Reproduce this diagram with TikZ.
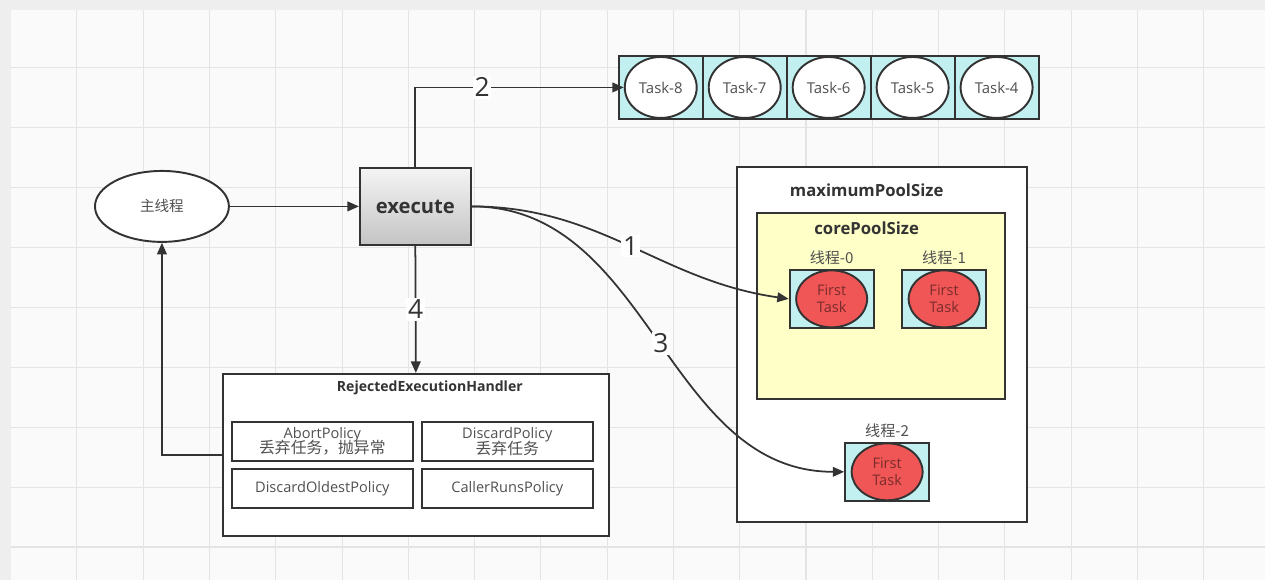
\documentclass[tikz,border=0pt]{standalone}
\usepackage{fontspec}
\setmainfont{Open Sans}
\newfontfamily\cjk{Noto Sans CJK SC}
\usetikzlibrary{arrows.meta,positioning,calc,shapes.geometric}

\definecolor{bgwhite}{HTML}{FAFAFA}
\definecolor{bandgray}{HTML}{EEEEEE}
\definecolor{gridgray}{HTML}{E4E4E4}
\definecolor{linegray}{HTML}{333333}
\definecolor{textgray}{HTML}{505050}
\definecolor{cellcyan}{HTML}{C2F0F0}
\definecolor{coreyellow}{HTML}{FFFFC8}
\definecolor{taskred}{HTML}{F05656}
\definecolor{taskredtext}{HTML}{7A2B2B}
\definecolor{exectop}{HTML}{F4F4F4}
\definecolor{execbottom}{HTML}{C4C4C4}

\begin{document}
\begin{tikzpicture}[x=0.02cm,y=-0.02cm]
    % Define styles
    \tikzstyle{conn}=[draw=linegray,line width=1pt]
    \tikzstyle{arrow}=[conn,-{Triangle[length=6.5pt,width=5.5pt]}]
    \tikzstyle{box}=[rectangle,draw=linegray,line width=1.1pt,inner sep=0pt]
    \tikzstyle{cell}=[box,fill=cellcyan,minimum width=1.68cm,minimum height=1.16cm]
    \tikzstyle{task}=[ellipse,draw=linegray,line width=1.1pt,fill=white,minimum width=1.44cm,minimum height=1.22cm,inner sep=0pt,text=textgray,font=\fontsize{8.5}{10}\selectfont]
    \tikzstyle{first}=[ellipse,draw=linegray,line width=1.1pt,fill=taskred,minimum width=1.42cm,minimum height=1.14cm,inner sep=0pt,align=center,text=taskredtext,font=\fontsize{8.3}{9.5}\selectfont]
    \tikzstyle{policy}=[box,line width=0.9pt,fill=white,align=center,text=textgray,font=\fontsize{8.3}{10}\selectfont]
    \tikzstyle{heading}=[text=linegray,font=\bfseries\fontsize{9.5}{11}\selectfont]
    \tikzstyle{thread}=[text=textgray,font=\cjk\fontsize{8.6}{10}\selectfont]
    \tikzstyle{numlabel}=[fill=white,inner sep=1pt,text=linegray,font=\fontsize{15}{15}\selectfont]

    % Background grid
    \fill[bgwhite] (0,0) rectangle (1266,580);
    \fill[bandgray] (0,0) rectangle (1266,10);
    \fill[bandgray] (0,0) rectangle (11,580);
    \foreach \k in {0,...,17} {
        \draw[gridgray,line width=0.6pt] ({77+66.3*\k},10) -- ({77+66.3*\k},580);
    }
    \foreach \k in {0,...,8} {
        \draw[gridgray,line width=0.6pt] (11,{68+59.9*\k}) -- (1266,{68+59.9*\k});
    }
    \useasboundingbox (0,0) rectangle (1266,580);

    % Main thread and execute
    \node[ellipse,draw=linegray,line width=1.1pt,fill=white,minimum width=2.68cm,minimum height=1.42cm,text=textgray,font=\cjk\fontsize{8.3}{10}\selectfont] (main) at (162,206.5) {主线程};
    \node[box,top color=exectop,bottom color=execbottom,minimum width=2.22cm,minimum height=1.54cm,text=linegray,font=\bfseries\fontsize{11.5}{13}\selectfont] (exec) at (415.5,206.5) {execute};

    % Task queue
    \foreach \i/\n in {0/8,1/7,2/6,3/5,4/4} {
        \node[cell,minimum height=1.26cm] (cell\n) at ({661+84*\i},87.5) {};
        \node[task] (task\n) at (cell\n) {Task-\n};
    }

    % RejectedExecutionHandler
    \node[box,fill=white,minimum width=7.72cm,minimum height=3.24cm] (reh) at (416,455) {};
    \node[heading,font=\bfseries\fontsize{8}{10}\selectfont] (rehtitle) at (430,388) {RejectedExecutionHandler};
    \node[policy,minimum width=3.62cm,minimum height=0.78cm] (abort) at (322.5,441.5) {AbortPolicy\\[-1pt]{\cjk\fontsize{9}{10}\selectfont 丢弃任务，抛异常}};
    \node[policy,minimum width=3.42cm,minimum height=0.78cm] (discard) at (507.5,441.5) {DiscardPolicy\\[-1pt]{\cjk\fontsize{9}{10}\selectfont 丢弃任务}};
    \node[policy,minimum width=3.62cm,minimum height=0.78cm] (oldest) at (322.5,488.5) {DiscardOldestPolicy};
    \node[policy,minimum width=3.42cm,minimum height=0.78cm] (callerruns) at (507.5,488.5) {CallerRunsPolicy};

    % Thread pool
    \node[box,fill=white,minimum width=5.8cm,minimum height=7.1cm] (maxpool) at (882,345) {};
    \node[heading] (maxtitle) at (867,190) {maximumPoolSize};
    \node[box,fill=coreyellow,minimum width=4.96cm,minimum height=3.72cm] (corepool) at (881,306) {};
    \node[heading] (coretitle) at (867,228) {corePoolSize};

    % Worker threads
    \foreach \t/\x/\y in {0/832/299,1/944.5/299,2/887.5/472} {
        \node[cell] (th\t cell) at (\x,\y) {};
        \node[first] (th\t) at (th\t cell) {First\\Task};
        \node[thread] (th\t lab) at (\x,\y-41) {线程-\t};
    }

    % Connections
    \draw[arrow] (main) -- (exec);
    \draw[arrow] (exec.north) |- (task8.west) node[numlabel,pos=0.66] (lab2) {2};
    \draw[arrow] (exec.east) to[out=0,in=172] node[numlabel] (lab1) {1} (th0cell.west);
    \draw[arrow] (exec.east) to[out=0,in=180] node[numlabel,pos=0.51] (lab3) {3} (th2cell.west);
    \draw[arrow] (exec.south) -- node[numlabel] (lab4) {4} (reh.north);
    \draw[arrow] (reh.west) -| (main.south);
\end{tikzpicture}
\end{document}
